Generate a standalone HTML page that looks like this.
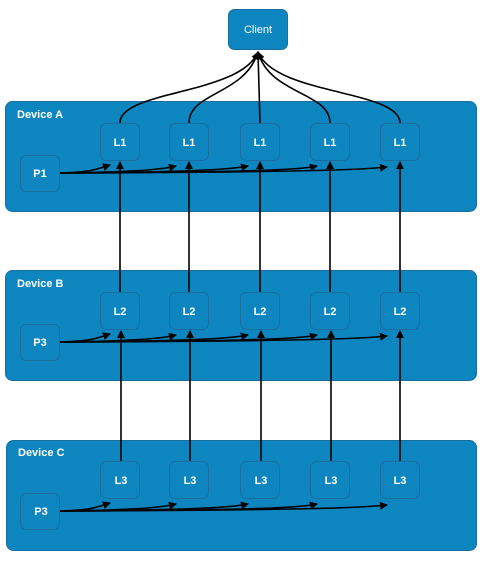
<!DOCTYPE html><html><head><style>body{margin:0;background:#fff}svg{display:block}text{font-family:"Liberation Sans",sans-serif;fill:#fff;font-size:11px}</style></head><body>
<svg width="487" height="564" viewBox="0 0 487 564">
<defs><marker id="a" markerWidth="8" markerHeight="8" refX="7" refY="4" orient="auto" markerUnits="userSpaceOnUse"><path d="M0,0L8,4L0,8z" fill="#000"/></marker></defs>
<g stroke="#1a6d9e" fill="#0d86c0">
<rect x="5.5" y="101.5" width="471" height="110" rx="7"/>
<rect x="5.5" y="270.5" width="471" height="110" rx="7"/>
<rect x="6.5" y="440.5" width="470" height="110" rx="7"/>
<rect x="228.5" y="9.5" width="59" height="40" rx="6"/>
</g>
<text x="17" y="118" font-weight="bold">Device A</text>
<text x="17" y="287" font-weight="bold">Device B</text>
<text x="18" y="456" font-weight="bold">Device C</text>
<text x="258" y="33" text-anchor="middle" font-size="10">Client</text>
<g id="row">
<g stroke="#1a6d9e" fill="#0d86c0">
<rect x="100.5" y="123.5" width="39" height="37" rx="6"/>
<rect x="169.5" y="123.5" width="39" height="37" rx="6"/>
<rect x="240.5" y="123.5" width="39" height="37" rx="6"/>
<rect x="310.5" y="123.5" width="39" height="37" rx="6"/>
<rect x="380.5" y="123.5" width="39" height="37" rx="6"/>
<rect x="20.5" y="155.5" width="39" height="36" rx="6"/>
</g>
<g fill="none" stroke="#000" stroke-width="1.6" marker-end="url(#a)">
<path d="M60,173 C90,172 95,170 110,165"/>
<path d="M60,173 C130,172 160,170 176,166"/>
<path d="M60,173 C180,172 230,170 248,166"/>
<path d="M60,173 C250,172 300,170 317,166"/>
<path d="M60,173 C300,172 360,170 387,167"/>
</g>
</g>
<use href="#row" y="169"/>
<use href="#row" y="338"/>
<g fill="#fff" font-weight="bold" text-anchor="middle">
<text x="120" y="146">L1</text><text x="189" y="146">L1</text><text x="260" y="146">L1</text><text x="330" y="146">L1</text><text x="400" y="146">L1</text><text x="40" y="177">P1</text>
<text x="120" y="315">L2</text><text x="189" y="315">L2</text><text x="260" y="315">L2</text><text x="330" y="315">L2</text><text x="400" y="315">L2</text><text x="40" y="346">P3</text>
<text x="121" y="484">L3</text><text x="190" y="484">L3</text><text x="261" y="484">L3</text><text x="331" y="484">L3</text><text x="400" y="484">L3</text><text x="41" y="515">P3</text>
</g>
<g fill="none" stroke="#000" stroke-width="1.6" marker-end="url(#a)">
<path d="M120,292V162"/><path d="M189,292V162"/><path d="M260,292V162"/><path d="M330,292V162"/><path d="M400,292V162"/>
<path d="M121,461V331"/><path d="M190,461V331"/><path d="M261,461V331"/><path d="M331,461V331"/><path d="M400,461V331"/>
<path d="M120,123 C120,90 240,95 258,52"/>
<path d="M189,123 C189,92 245,95 258,52"/>
<path d="M260,123 L258,52"/>
<path d="M330,123 C330,92 270,95 258,52"/>
<path d="M400,123 C400,90 275,95 258,52"/>
</g>
</svg></body></html>
